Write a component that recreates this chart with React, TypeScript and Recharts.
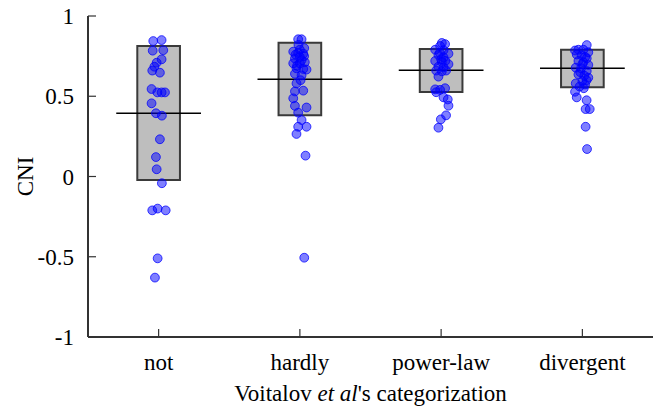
import { ScatterChart, Scatter, XAxis, YAxis, ReferenceArea, ReferenceLine, Label } from "recharts";

const categories = ["not", "hardly", "power-law", "divergent"];
const yTicks = [-1, -0.5, 0, 0.5, 1];

// box: lower quartile, upper quartile, median
const q1 = [-0.022, 0.381, 0.526, 0.556];
const q3 = [0.813, 0.834, 0.794, 0.79];
const medians = [0.394, 0.606, 0.662, 0.674];

// [jitter (in category units), CNI]
const notPts = [
  [-0.038, 0.844], [0.021, 0.85], [-0.042, 0.784], [0.033, 0.787], [0.021, 0.73],
  [-0.014, 0.709], [-0.03, 0.684], [-0.045, 0.66], [0.009, 0.647], [-0.05, 0.545],
  [-0.009, 0.524], [0.021, 0.524], [0.045, 0.524], [-0.05, 0.456], [-0.019, 0.394],
  [0.023, 0.379], [0.009, 0.232], [-0.019, 0.121], [-0.014, 0.045], [0.023, -0.042],
  [-0.045, -0.211], [-0.007, -0.2], [0.05, -0.211], [-0.007, -0.51], [-0.026, -0.63],
];
const hardlyPts = [
  [-0.012, 0.855], [0.012, 0.855], [0.031, 0.8], [-0.047, 0.778], [-0.012, 0.77],
  [0.024, 0.765], [-0.035, 0.735], [0.012, 0.725], [-0.047, 0.705], [0.0, 0.705],
  [0.035, 0.712], [-0.024, 0.674], [0.024, 0.67], [0.047, 0.666], [-0.035, 0.64],
  [0.012, 0.63], [-0.024, 0.58], [0.024, 0.535], [-0.035, 0.53], [-0.047, 0.487],
  [-0.035, 0.44], [0.047, 0.43], [-0.012, 0.398], [0.012, 0.352], [0.047, 0.31],
  [-0.012, 0.31], [-0.024, 0.265], [0.04, 0.13], [0.031, -0.506],
  [-0.03, 0.76], [0.0, 0.745], [0.03, 0.75], [-0.02, 0.69], [0.005, 0.6],
  [-0.01, 0.82], [0.0, 0.79],
];
const powerLawPts = [
  [0.005, 0.832], [0.028, 0.825], [-0.007, 0.813], [-0.042, 0.79], [0.017, 0.787],
  [0.052, 0.765], [-0.019, 0.757], [0.017, 0.743], [-0.042, 0.72], [0.005, 0.713],
  [0.052, 0.7], [-0.019, 0.684], [0.017, 0.68], [-0.035, 0.66], [0.005, 0.655],
  [-0.019, 0.622], [-0.042, 0.543], [-0.007, 0.54], [0.028, 0.55], [-0.035, 0.525],
  [0.017, 0.493], [0.047, 0.48], [0.052, 0.441], [0.035, 0.381], [-0.002, 0.356],
  [-0.019, 0.304], [0.0, 0.73], [0.03, 0.72], [-0.01, 0.77], [0.035, 0.66],
];
const divergentPts = [
  [0.031, 0.819], [-0.028, 0.79], [0.007, 0.79], [-0.052, 0.785], [0.042, 0.774],
  [-0.04, 0.76], [-0.005, 0.755], [0.031, 0.736], [-0.028, 0.72], [0.007, 0.712],
  [0.042, 0.695], [-0.047, 0.678], [-0.009, 0.674], [0.031, 0.657], [-0.028, 0.636],
  [0.014, 0.628], [0.042, 0.616], [0.0, 0.595], [-0.047, 0.58], [0.019, 0.573],
  [-0.052, 0.528], [-0.04, 0.493], [0.03, 0.475], [0.023, 0.42], [0.052, 0.42],
  [0.023, 0.31], [0.033, 0.171], [0.0, 0.7], [0.02, 0.745], [-0.015, 0.65],
  [0.03, 0.6], [-0.02, 0.56], [0.01, 0.55],
];

const groups = [notPts, hardlyPts, powerLawPts, divergentPts];
const BOX_HALF = 0.151;
const MEDIAN_HALF = 0.3;
const FRAME = "#333";
const TICK_LEN = 8;
const SERIF = "Liberation Serif";
const FS = 23;

const pointData = groups.map((pts, i) =>
  pts.map(([dx, y]) => ({ x: i + 1 + dx, y }))
);

function Dot(props: any) {
  return (
    <circle
      cx={props.cx}
      cy={props.cy}
      r={4.4}
      fill="#0000ff"
      fillOpacity={0.5}
      stroke="#0000ff"
      strokeOpacity={0.75}
      strokeWidth={1}
    />
  );
}

function BottomTick(props: any) {
  const { x, y, payload } = props;
  return (
    <g>
      <line x1={x} x2={x} y1={y} y2={y - TICK_LEN} stroke={FRAME} strokeWidth={1.2} />
      <text x={x} y={y + 33} textAnchor="middle" fontFamily={SERIF} fontSize={FS} fill="#000">
        {categories[payload.value - 1]}
      </text>
    </g>
  );
}

function TopTick(props: any) {
  const { x, y } = props;
  return <line x1={x} x2={x} y1={y} y2={y + TICK_LEN} stroke={FRAME} strokeWidth={1.2} />;
}

function LeftTick(props: any) {
  const { x, y, payload } = props;
  return (
    <g>
      <line x1={x} x2={x + TICK_LEN} y1={y} y2={y} stroke={FRAME} strokeWidth={1.2} />
      <text x={x - 14} y={y} dy="0.35em" textAnchor="end" fontFamily={SERIF} fontSize={FS} fill="#000">
        {payload.value}
      </text>
    </g>
  );
}

function RightTick(props: any) {
  const { x, y } = props;
  return <line x1={x} x2={x - TICK_LEN} y1={y} y2={y} stroke={FRAME} strokeWidth={1.2} />;
}

function XTitle(props: any) {
  const vb = props.viewBox;
  return (
    <text x={vb.x + vb.width / 2} y={vb.y + 64} textAnchor="middle" fontFamily={SERIF} fontSize={FS} fill="#000">
      <tspan>Voitalov </tspan>
      <tspan fontStyle="italic">et al</tspan>
      <tspan>'s categorization</tspan>
    </text>
  );
}

function YTitle(props: any) {
  const vb = props.viewBox;
  const cx = vb.x + 25;
  const cy = vb.y + vb.height / 2;
  return (
    <text
      x={cx}
      y={cy}
      transform={`rotate(-90 ${cx} ${cy})`}
      textAnchor="middle"
      dy="0.35em"
      fontFamily={SERIF}
      fontSize={FS}
      fill="#000"
    >
      CNI
    </text>
  );
}

export default function App() {
  return (
    <div style={{ position: "absolute", left: 0, top: 0, width: 658, height: 407, background: "#fff" }}>
      <ScatterChart width={658} height={407} margin={{ top: 16, right: 5, bottom: 0, left: 0 }}>
        <XAxis
          xAxisId="b"
          type="number"
          dataKey="x"
          domain={[0.5, 4.5]}
          ticks={[1, 2, 3, 4]}
          allowDataOverflow
          height={70}
          tickSize={0}
          tickMargin={0}
          tickLine={false}
          tick={<BottomTick />}
          axisLine={{ stroke: FRAME, strokeWidth: 2 }}
        >
          <Label content={<XTitle />} />
        </XAxis>
        <XAxis
          xAxisId="t"
          orientation="top"
          type="number"
          domain={[0.5, 4.5]}
          ticks={[1, 2, 3, 4]}
          allowDataOverflow
          height={0}
          tickSize={0}
          tickMargin={0}
          tickLine={false}
          tick={<TopTick />}
          axisLine={{ stroke: FRAME, strokeWidth: 2 }}
        />
        <YAxis
          yAxisId="l"
          type="number"
          dataKey="y"
          domain={[-1, 1]}
          ticks={yTicks}
          allowDataOverflow
          width={88}
          tickSize={0}
          tickMargin={0}
          tickLine={false}
          tick={<LeftTick />}
          axisLine={{ stroke: FRAME, strokeWidth: 2 }}
        >
          <Label content={<YTitle />} />
        </YAxis>
        <YAxis
          yAxisId="r"
          orientation="right"
          type="number"
          domain={[-1, 1]}
          ticks={yTicks}
          allowDataOverflow
          width={0}
          tickSize={0}
          tickMargin={0}
          tickLine={false}
          tick={<RightTick />}
          axisLine={{ stroke: FRAME, strokeWidth: 2 }}
        />
        {categories.map((c, i) => (
          <ReferenceArea
            key={"box-" + c}
            xAxisId="b"
            yAxisId="l"
            x1={i + 1 - BOX_HALF}
            x2={i + 1 + BOX_HALF}
            y1={q1[i]}
            y2={q3[i]}
            fill="#bebebe"
            fillOpacity={1}
            stroke="#3a3a3a"
            strokeWidth={2}
          />
        ))}
        {categories.map((c, i) => (
          <ReferenceLine
            key={"med-" + c}
            xAxisId="b"
            yAxisId="l"
            segment={[
              { x: i + 1 - MEDIAN_HALF, y: medians[i] },
              { x: i + 1 + MEDIAN_HALF, y: medians[i] },
            ]}
            stroke="#000"
            strokeWidth={1.5}
          />
        ))}
        {categories.map((c, i) => (
          <Scatter
            key={"pts-" + c}
            name={c}
            xAxisId="b"
            yAxisId="l"
            data={pointData[i]}
            shape={<Dot />}
            isAnimationActive={false}
          />
        ))}
      </ScatterChart>
    </div>
  );
}
